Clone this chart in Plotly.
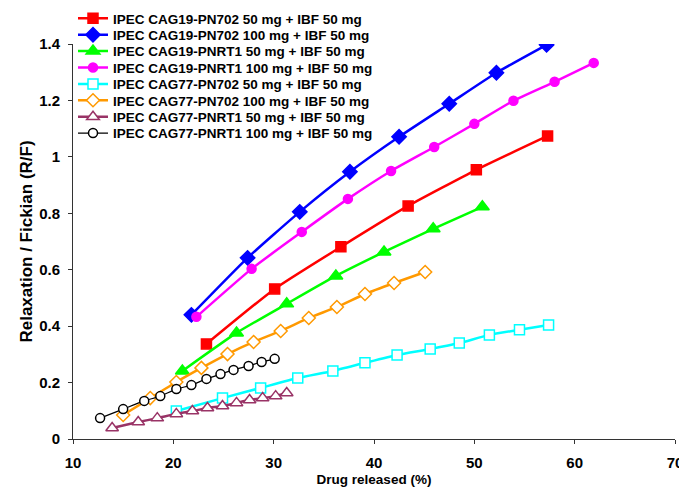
import plotly.graph_objects as go

names = [
    "IPEC CAG19-PN702 50 mg + IBF 50 mg",
    "IPEC CAG19-PN702 100 mg + IBF 50 mg",
    "IPEC CAG19-PNRT1 50 mg + IBF 50 mg",
    "IPEC CAG19-PNRT1 100 mg + IBF 50 mg",
    "IPEC CAG77-PN702 50 mg + IBF 50 mg",
    "IPEC CAG77-PN702 100 mg + IBF 50 mg",
    "IPEC CAG77-PNRT1 50 mg + IBF 50 mg",
    "IPEC CAG77-PNRT1 100 mg + IBF 50 mg",
]

red_x = [23.3, 30.1, 36.7, 43.4, 50.2, 57.3]
red_y = [0.337, 0.532, 0.681, 0.826, 0.954, 1.074]

blue_x = [21.8, 27.4, 32.6, 37.6, 42.5, 47.5, 52.2, 57.2]
blue_y = [0.440, 0.642, 0.805, 0.947, 1.071, 1.188, 1.298, 1.397]

green_x = [20.9, 26.3, 31.3, 36.2, 41.0, 45.9, 50.8]
green_y = [0.241, 0.376, 0.479, 0.578, 0.663, 0.745, 0.823]

magenta_x = [22.3, 27.8, 32.8, 37.4, 41.7, 46.0, 50.0, 53.9, 58.0, 61.9]
magenta_y = [0.433, 0.603, 0.734, 0.851, 0.950, 1.035, 1.117, 1.199, 1.266, 1.333]

cyan_x = [20.3, 24.9, 28.7, 32.4, 35.9, 39.1, 42.3, 45.6, 48.5, 51.5, 54.5, 57.4]
cyan_y = [0.099, 0.145, 0.181, 0.216, 0.241, 0.270, 0.298, 0.319, 0.340, 0.369, 0.387, 0.404]

orange_x = [15.0, 17.7, 20.3, 22.8, 25.4, 28.0, 30.7, 33.5, 36.3, 39.1, 42.0, 45.1]
orange_y = [0.085, 0.145, 0.202, 0.252, 0.301, 0.344, 0.383, 0.429, 0.468, 0.514, 0.553, 0.592]

purple_x = [13.9, 16.5, 18.4, 20.3, 21.9, 23.4, 24.9, 26.3, 27.6, 28.9, 30.2, 31.3]
purple_y = [0.039, 0.060, 0.074, 0.089, 0.099, 0.110, 0.117, 0.128, 0.138, 0.145, 0.152, 0.163]

black_x = [12.7, 15.0, 17.1, 18.7, 20.3, 21.8, 23.3, 24.7, 26.0, 27.5, 28.8, 30.1]
black_y = [0.074, 0.106, 0.135, 0.152, 0.177, 0.191, 0.213, 0.230, 0.245, 0.259, 0.273, 0.284]

xs = [red_x, blue_x, green_x, magenta_x, cyan_x, orange_x, purple_x, black_x]
ys = [red_y, blue_y, green_y, magenta_y, cyan_y, orange_y, purple_y, black_y]

colors = ["#FF0000", "#0000FF", "#00FF00", "#FF00FF", "#00FFFF", "#FF9900", "#993366", "#000000"]
symbols = ["square", "diamond", "triangle-up", "circle",
           "square", "diamond", "triangle-up", "circle"]
filled = [True, True, True, True, False, False, False, False]
sizes = [10, 11, 12, 9, 10, 10, 11, 9]
widths = [2.5, 2.5, 2.5, 2.5, 2.5, 2.5, 2.5, 1.2]

# the page body adds an 8px offset; size the figure so it fills the 687x490 window
W, H = 679, 482
ML, MR, MT, MB = 65, 12, 36, 51
plot_h = H - MT - MB
legend_layout = {}
fig = go.Figure()
for i, (n, x, y, c, s, f, sz, w) in enumerate(zip(names, xs, ys, colors, symbols, filled, sizes, widths)):
    lname = "legend" if i == 0 else f"legend{i + 1}"
    row_px = 10.5 + 16.4 * i
    legend_layout[lname] = dict(
        x=0.0, y=(H - MB - row_px) / plot_h,
        xanchor="left", yanchor="middle",
        font=dict(size=13.5, family="Liberation Sans, Arial, sans-serif", weight="bold", color="black"),
        bgcolor="rgba(0,0,0,0)", borderwidth=0,
    )
    fig.add_trace(go.Scatter(
        x=x, y=y, name=n, mode="lines+markers", legend=lname,
        line=dict(color=c, width=w, shape="spline", smoothing=0.5),
        marker=dict(symbol=s, size=sz, color=c if f else "white",
                    line=dict(color=c, width=1.5)),
    ))

fig.update_layout(
    width=W, height=H,
    margin=dict(l=ML, r=MR, t=MT, b=MB, autoexpand=False),
    paper_bgcolor="white", plot_bgcolor="white",
    font=dict(family="Liberation Sans, Arial, sans-serif", color="black"),
    showlegend=True,
    **legend_layout,
)
fig.update_xaxes(
    range=[10, 70], dtick=10, tick0=10, automargin=False,
    showline=True, linecolor="#333333", linewidth=1,
    ticks="outside", ticklen=4, tickcolor="#333333", ticklabelstandoff=6,
    ticklabeloverflow="allow",
    showgrid=False, zeroline=False,
    tickfont=dict(size=15, weight="bold"),
    title=dict(text="Drug released (%)", font=dict(size=13.5, weight="bold"), standoff=4),
)
fig.update_yaxes(
    range=[0, 1.4], dtick=0.2, tickformat="~g", automargin=False,
    showline=True, linecolor="#333333", linewidth=1,
    ticks="outside", ticklen=4, tickcolor="#333333", ticklabelstandoff=5,
    ticklabeloverflow="allow",
    showgrid=False, zeroline=False,
    tickfont=dict(size=15, weight="bold"),
    title=dict(text="Relaxation / Fickian (R/F)", font=dict(size=17, weight="bold"), standoff=2),
)

fig.write_html("out.html")
